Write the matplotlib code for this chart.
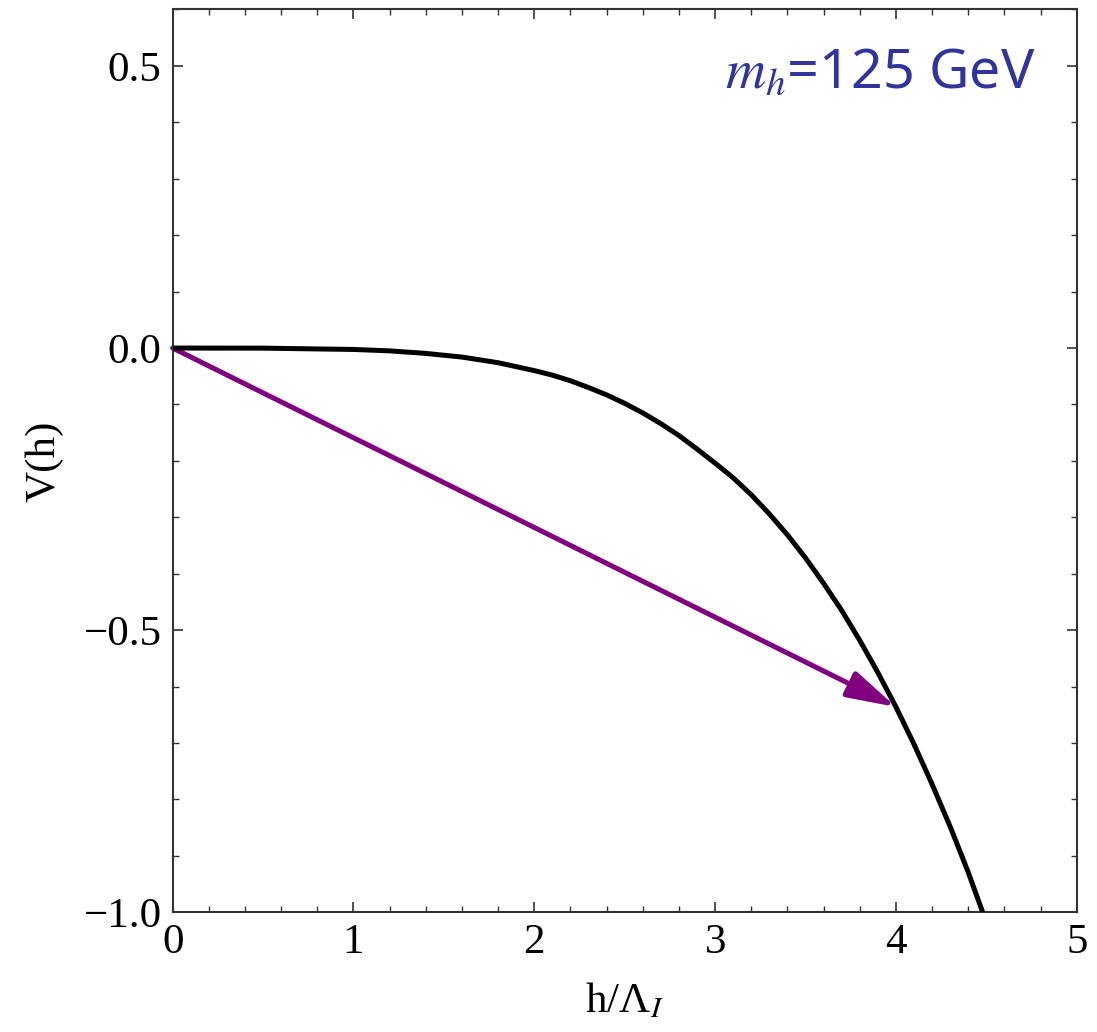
import matplotlib
matplotlib.use("Agg")
import matplotlib.pyplot as plt
from matplotlib.ticker import MultipleLocator

# Data
h_vals = [0.0, 0.5, 1.0, 1.2, 1.4, 1.6, 1.8, 2.0, 2.1, 2.2, 2.3, 2.4, 2.5, 2.6, 2.7, 2.8, 2.9,
          3.0, 3.1, 3.2, 3.3, 3.4, 3.5, 3.6, 3.7, 3.8, 3.9, 4.0, 4.1, 4.2, 4.3, 4.4, 4.48]
V_vals = [0.0, -0.0002, -0.0025, -0.005, -0.0095, -0.016, -0.026, -0.040, -0.048, -0.058, -0.070,
          -0.083, -0.098, -0.115, -0.134, -0.155, -0.179, -0.204, -0.230, -0.260, -0.294, -0.331,
          -0.372, -0.417, -0.465, -0.518, -0.575, -0.636, -0.702, -0.773, -0.848, -0.929, -1.0]
arrow_start = (0.0, 0.0)
arrow_end = (4.0, -0.636)
x_ticks = [0, 1, 2, 3, 4, 5]
y_ticks = [-1.0, -0.5, 0.0, 0.5]
annotation = r"$m_h$=125 GeV"

plt.rcParams['font.family'] = ['Liberation Serif', 'DejaVu Serif']
plt.rcParams['mathtext.fontset'] = 'stix'

fig = plt.figure(figsize=(10.97, 10.32), dpi=100)
ax = fig.add_axes([0.1574, 0.1160, 0.8241, 0.8748])

ax.plot(h_vals, V_vals, color='black', lw=3.6, solid_capstyle='butt',
        solid_joinstyle='round', zorder=3)
ax.annotate('', xy=arrow_end, xytext=arrow_start,
            arrowprops=dict(arrowstyle='-|>,head_length=1.5,head_width=0.42',
                            mutation_scale=20, color='#800080', lw=3.6,
                            shrinkA=0, shrinkB=0), zorder=2)

ax.set_xlim(0, 5)
ax.set_ylim(-1.0, 0.6)
ax.set_xticks(x_ticks)
ax.set_yticks(y_ticks)
ax.set_xticklabels([str(t) for t in x_ticks])
ax.set_yticklabels(["\u22121.0", "\u22120.5", "0.0", "0.5"])
ax.xaxis.set_minor_locator(MultipleLocator(0.2))
ax.yaxis.set_minor_locator(MultipleLocator(0.1))
ax.tick_params(which='both', direction='in', top=True, right=True, labelsize=31,
               colors='#333333', labelcolor='black')
ax.tick_params(which='major', length=7, width=1.2, pad=8)
ax.tick_params(which='minor', length=4, width=1.0)
for s in ax.spines.values():
    s.set_linewidth(1.5)
    s.set_color('#333333')

ax.set_xlabel("h/\u039b$_{I}$", fontsize=31, labelpad=14)
ax.set_ylabel("V(h)", fontsize=31, labelpad=14)

ax.text(0.955, 0.96, annotation, transform=ax.transAxes, ha='right', va='top',
        fontsize=40, color='#31359a', family=['Noto Sans', 'DejaVu Sans'])

fig.savefig("out.png", dpi=100)
